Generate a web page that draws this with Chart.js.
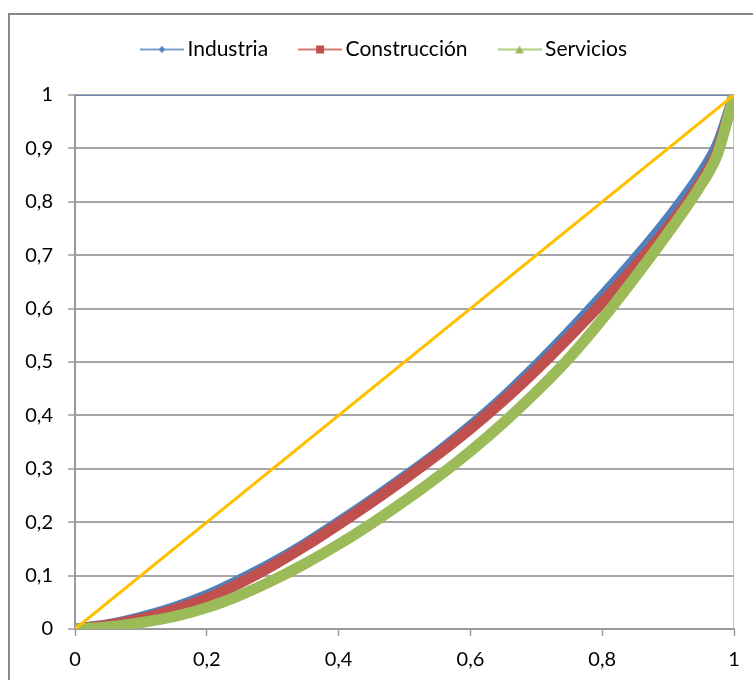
<!DOCTYPE html>
<html>
<head>
<meta charset="utf-8">
<script src="https://cdn.jsdelivr.net/npm/chart.js@4.4.1/dist/chart.umd.min.js"></script>
<style>
    body { margin: 0; background: #ffffff; }
    canvas { display: block; }
</style>
</head>
<body>
<canvas id="lorenzChart" width="753" height="680"></canvas>
<script>
// share of population (x) and accumulated share of income (y)
const xValues = [0, 0.05, 0.1, 0.15, 0.2, 0.25, 0.3, 0.35, 0.4, 0.45, 0.5, 0.55, 0.6, 0.65, 0.7, 0.75, 0.8, 0.85, 0.9, 0.95, 0.975, 1];
const industria = [0, 0.008, 0.022, 0.04, 0.063, 0.092, 0.124, 0.16, 0.2, 0.2415, 0.285, 0.3305, 0.38, 0.434, 0.4935, 0.557, 0.6235, 0.6935, 0.7685, 0.8535, 0.908, 1];
const construccion = [0, 0.007, 0.019, 0.036, 0.057, 0.086, 0.119, 0.156, 0.196, 0.2375, 0.281, 0.3265, 0.375, 0.428, 0.4855, 0.547, 0.6115, 0.6795, 0.7525, 0.8385, 0.896, 1];
const servicios = [0, 0.004, 0.012, 0.023, 0.04, 0.063, 0.091, 0.123, 0.1585, 0.1975, 0.2395, 0.2845, 0.333, 0.386, 0.444, 0.5075, 0.58, 0.659, 0.742, 0.832, 0.8895, 1];

// line of perfect equality
const equalityX = [0, 1];
const equalityY = [0, 1];

// outline drawn along the top and right of the plot
const frameX = [0, 1, 1];
const frameY = [1, 1, 0];

const seriesNames = ['Industria', 'Construcción', 'Servicios'];
const xTickLabels = ['0', '0,2', '0,4', '0,6', '0,8', '1'];
const yTickLabels = ['0', '0,1', '0,2', '0,3', '0,4', '0,5', '0,6', '0,7', '0,8', '0,9', '1'];

const seriesColors = ['#4F81BD', '#C0504D', '#9BBB59'];
const markerShapes = ['diamond', 'square', 'triangle'];

function toPoints(xs, ys) {
    return xs.map(function (x, i) {
        return { x: x, y: ys[i] };
    });
}

//Small picture of a line with its marker, used in the legend.
function makeLegendIcon(color, shape) {
    const icon = document.createElement('canvas');
    icon.width = 44;
    icon.height = 14;
    const ctx = icon.getContext('2d');
    ctx.strokeStyle = color;
    ctx.fillStyle = color;
    ctx.lineWidth = 1.5;
    ctx.beginPath();
    ctx.moveTo(0, 7);
    ctx.lineTo(44, 7);
    ctx.stroke();
    ctx.beginPath();
    if (shape === 'diamond') {
        ctx.moveTo(22, 3.5);
        ctx.lineTo(25.5, 7);
        ctx.lineTo(22, 10.5);
        ctx.lineTo(18.5, 7);
    } else if (shape === 'square') {
        ctx.rect(18, 3, 8, 8);
    } else {
        ctx.moveTo(22, 3);
        ctx.lineTo(26.5, 11);
        ctx.lineTo(17.5, 11);
    }
    ctx.closePath();
    ctx.fill();
    return icon;
}

const legendIcons = seriesColors.map(function (color, i) {
    return makeLegendIcon(color, markerShapes[i]);
});

const chartFrame = {
    id: 'chartFrame',
    beforeInit(chart) {
        const legend = chart.legend;
        const originalFit = legend.fit;
        legend.fit = function fit() {
            originalFit.bind(legend)();
            this.height = 95;
        };
        const originalDraw = legend.draw;
        legend.draw = function draw() {
            const ctx = chart.ctx;
            ctx.save();
            ctx.translate(20, 2);
            originalDraw.apply(legend, arguments);
            ctx.restore();
        };
    },
    beforeDraw(chart) {
        const ctx = chart.ctx;
        ctx.save();
        ctx.strokeStyle = '#888888';
        ctx.lineWidth = 2;
        ctx.strokeRect(9, 14, 900, 900);
        ctx.restore();
    }
};

function curveDataset(label, values, color, order) {
    return {
        label: label,
        data: toPoints(xValues, values),
        showLine: true,
        borderColor: color,
        backgroundColor: color,
        borderWidth: 11,
        borderCapStyle: 'round',
        borderJoinStyle: 'round',
        cubicInterpolationMode: 'monotone',
        pointRadius: 0,
        order: order
    };
}

Chart.defaults.font.family = 'Lato';
Chart.defaults.color = '#000000';

const ctx = document.getElementById('lorenzChart');

new Chart(ctx, {
    type: 'scatter',
    data: {
        datasets: [
            curveDataset(seriesNames[0], industria, seriesColors[0], 3),
            curveDataset(seriesNames[1], construccion, seriesColors[1], 2),
            curveDataset(seriesNames[2], servicios, seriesColors[2], 1),
            {
                label: 'Equidad',
                data: toPoints(equalityX, equalityY),
                showLine: true,
                borderColor: '#FFC000',
                borderWidth: 3,
                pointRadius: 0,
                order: 0
            },
            {
                label: 'Marco',
                data: toPoints(frameX, frameY),
                showLine: true,
                borderColor: '#4F81BD',
                borderWidth: 1.5,
                pointRadius: 0,
                segment: {
                    borderColor: function (context) {
                        return context.p0DataIndex === 0 ? '#4F81BD' : '#95B3D7';
                    }
                },
                order: 4
            }
        ]
    },
    options: {
        responsive: false,
        animation: false,
        devicePixelRatio: 1,
        layout: {
            padding: { left: 0, right: 19, top: 0, bottom: 0 }
        },
        scales: {
            x: {
                type: 'linear',
                min: 0,
                max: 1,
                afterFit: function (scale) {
                    scale.height = 51;
                },
                ticks: {
                    stepSize: 0.2,
                    autoSkip: false,
                    maxRotation: 0,
                    padding: 12,
                    font: { size: 20 },
                    color: '#000000',
                    callback: function (value, index) {
                        return xTickLabels[index];
                    }
                },
                grid: {
                    drawOnChartArea: false,
                    drawTicks: true,
                    tickLength: 7,
                    tickColor: '#9A9A9A',
                    tickWidth: 1.5
                },
                border: {
                    display: true,
                    color: '#9A9A9A',
                    width: 2
                }
            },
            y: {
                type: 'linear',
                min: 0,
                max: 1,
                afterFit: function (scale) {
                    scale.width = 75;
                },
                ticks: {
                    stepSize: 0.1,
                    padding: 15,
                    font: { size: 20 },
                    color: '#000000',
                    callback: function (value, index) {
                        return yTickLabels[index];
                    }
                },
                grid: {
                    color: '#A6A6A6',
                    lineWidth: 2,
                    drawTicks: true,
                    tickLength: 7,
                    tickColor: '#9A9A9A',
                    tickWidth: 1.5
                },
                border: {
                    display: true,
                    color: '#9A9A9A',
                    width: 2
                }
            }
        },
        plugins: {
            legend: {
                display: true,
                position: 'top',
                labels: {
                    usePointStyle: true,
                    pointStyleWidth: 30,
                    padding: 37,
                    color: '#000000',
                    font: { size: 21 },
                    generateLabels: function (chart) {
                        return seriesNames.map(function (name, i) {
                            return {
                                text: name,
                                fillStyle: seriesColors[i],
                                strokeStyle: seriesColors[i],
                                lineWidth: 0,
                                pointStyle: legendIcons[i],
                                hidden: false,
                                datasetIndex: i
                            };
                        });
                    }
                }
            },
            tooltip: { enabled: false }
        }
    },
    plugins: [chartFrame]
});
</script>
</body>
</html>
